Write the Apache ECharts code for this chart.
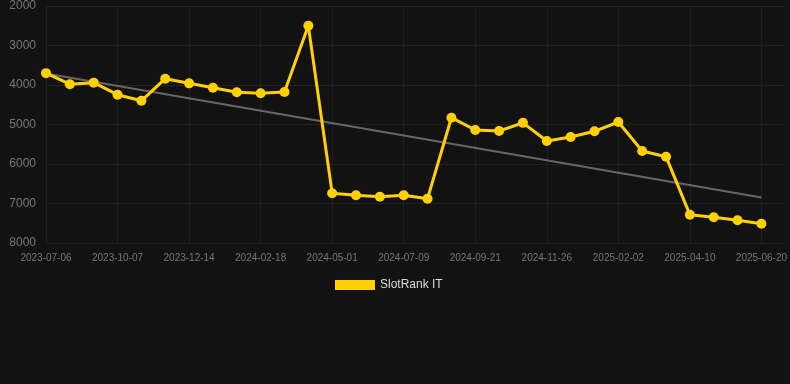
<!DOCTYPE html>
<html>
<head>
<meta charset="utf-8">
<script src="https://cdn.jsdelivr.net/npm/echarts@6/dist/echarts.min.js"></script>
<style>
html,body{margin:0;padding:0;background:#121212;}
#chart{width:790px;height:384px;}
</style>
</head>
<body>
<div id="chart"></div>
<script>
const categories = [
  '2023-07-06','2023-08-06','2023-09-06','2023-10-07','2023-10-30','2023-11-22',
  '2023-12-14','2024-01-05','2024-01-27','2024-02-18','2024-03-12','2024-04-06',
  '2024-05-01','2024-05-24','2024-06-16','2024-07-09','2024-08-02','2024-08-27',
  '2024-09-21','2024-10-13','2024-11-04','2024-11-26','2024-12-19','2025-01-10',
  '2025-02-02','2025-02-24','2025-03-18','2025-04-10','2025-05-04','2025-05-27',
  '2025-06-20'
];
const slotRankIT = [
  3700, 3980, 3940, 4245, 4400, 3840, 3958, 4068, 4185, 4210, 4177,
  2500, 6742, 6793, 6828, 6793, 6878, 4828, 5139, 5165, 4958,
  5418, 5316, 5173, 4937, 5671, 5815, 7283, 7349, 7425, 7511
];
const trendStart = 3710;
const trendEnd = 6850;
const yTicks = [2000, 3000, 4000, 5000, 6000, 7000, 8000];

const trend = categories.map((c, i) => i === 0 ? trendStart : (i === categories.length - 1 ? trendEnd : null));

const chart = echarts.init(document.getElementById('chart'));
chart.setOption({
  backgroundColor: '#121212',
  animation: false,
  grid: { left: 46, right: 0, top: 6, bottom: 141, containLabel: false },
  legend: {
    data: ['SlotRank IT'],
    bottom: 88,
    left: 330,
    itemWidth: 40,
    itemHeight: 10,
    icon: 'rect',
    textStyle: { color: '#dddddd', fontSize: 12, fontFamily: 'Liberation Sans, Arial, sans-serif' }
  },
  xAxis: {
    type: 'category',
    data: categories,
    boundaryGap: false,
    max: 31.2,
    axisLine: { show: false },
    axisTick: { show: false },
    axisLabel: { interval: 2, color: '#777777', fontSize: 10, margin: 10, fontFamily: 'Liberation Sans, Arial, sans-serif' },
    splitLine: { show: true, interval: 2, lineStyle: { color: '#1f1f1f', width: 1 } }
  },
  yAxis: {
    type: 'value',
    inverse: true,
    min: yTicks[0],
    max: yTicks[yTicks.length - 1],
    interval: 1000,
    axisLine: { show: false },
    axisTick: { show: false },
    axisLabel: { color: '#777777', fontSize: 12, margin: 10, fontFamily: 'Liberation Sans, Arial, sans-serif', formatter: v => String(v) },
    splitLine: { show: true, lineStyle: { color: '#222222', width: 1 } }
  },
  series: [
    {
      name: 'Trend',
      type: 'line',
      data: trend,
      connectNulls: true,
      symbol: 'none',
      lineStyle: { color: '#666666', width: 2 },
      z: 1,
      silent: true
    },
    {
      name: 'SlotRank IT',
      type: 'line',
      data: slotRankIT,
      symbol: 'circle',
      symbolSize: 10,
      itemStyle: { color: '#ffd100' },
      lineStyle: { color: '#ffd100', width: 3 },
      z: 2
    }
  ]
});
</script>
</body>
</html>
